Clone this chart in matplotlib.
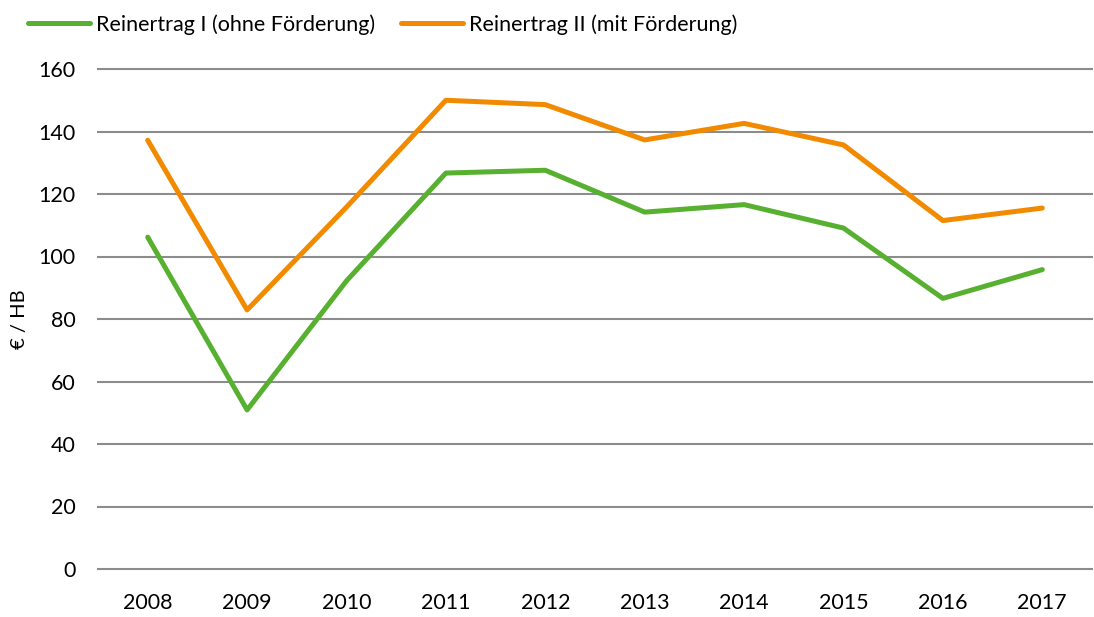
import numpy as np
import matplotlib
matplotlib.use("Agg")
import matplotlib.pyplot as plt

years = ["2008", "2009", "2010", "2011", "2012", "2013", "2014", "2015", "2016", "2017"]
ertrag_1 = [106.2, 50.9, 92.2, 126.7, 127.6, 114.2, 116.6, 109.1, 86.6, 95.8]
ertrag_2 = [137.2, 82.9, 115.8, 150.0, 148.6, 137.3, 142.6, 135.7, 111.5, 115.5]
labels = ["Reinertrag I (ohne Förderung)", "Reinertrag II (mit Förderung)"]

green = "#58b030"
orange = "#f28a00"

plt.rcParams['font.family'] = ['Lato', 'DejaVu Sans']

fig = plt.figure(figsize=(10.94, 6.17), dpi=100)
ax = fig.add_axes([98 / 1094, 1 - 569 / 617, 994 / 1094, 500 / 617])

x = np.arange(len(years))
l1, = ax.plot(x, ertrag_1, color=green, lw=3.6, solid_capstyle='round', label=labels[0])
l2, = ax.plot(x, ertrag_2, color=orange, lw=3.6, solid_capstyle='round', label=labels[1])

ax.set_xlim(-0.5, len(years) - 0.5)
ax.set_ylim(0, 160)
ax.set_yticks(np.arange(0, 161, 20))
ax.set_xticks(x)
ax.set_xticklabels(years)
ax.yaxis.grid(True, color="#8c8c8c", lw=1.5)
ax.set_axisbelow(True)
for s in ax.spines.values():
    s.set_visible(False)
ax.tick_params(length=0, labelsize=15.5, colors="black")
ax.tick_params(axis='y', pad=16)
ax.tick_params(axis='x', pad=17)
for gl in ax.get_ygridlines():
    gl.set_clip_on(False)

ax.set_ylabel("€ / HB", fontsize=14.5)
ax.yaxis.set_label_coords(-70 / 994, 0.5)

leg = fig.legend(handles=[l1, l2], loc='upper left', bbox_to_anchor=(14 / 1094, 1.0),
                 ncol=2, frameon=False, prop={'size': 15.5},
                 handlelength=2.9, handletextpad=0.25, columnspacing=1.2, borderaxespad=0.25)

fig.savefig("out.png", dpi=100)
